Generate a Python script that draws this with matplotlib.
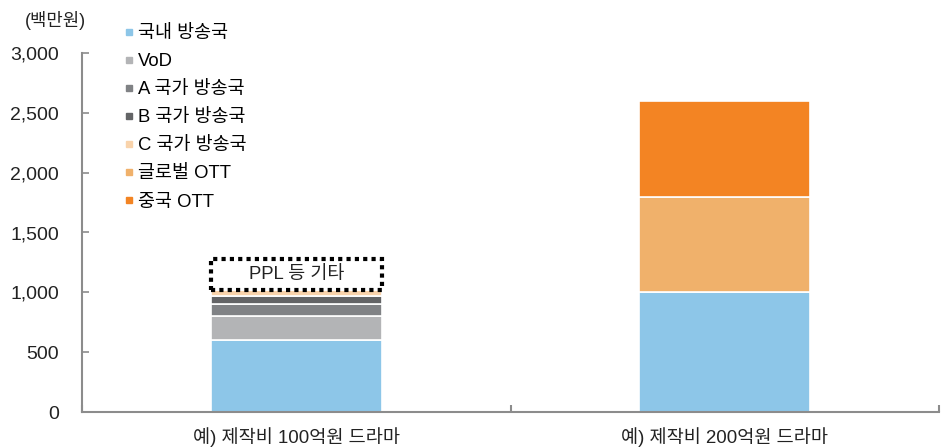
import matplotlib
matplotlib.use("Agg")
import matplotlib.pyplot as plt
from matplotlib.lines import Line2D
import numpy as np

plt.rcParams['font.family'] = ['Liberation Sans', 'Noto Sans CJK KR']

# Stacked revenue components per drama (백만원)
categories = ['예) 제작비 100억원 드라마', '예) 제작비 200억원 드라마']
series_names = ['국내 방송국', 'VoD', 'A 국가 방송국', 'B 국가 방송국',
                'C 국가 방송국', '글로벌 OTT', '중국 OTT']
series_values = [
    [600, 1000],
    [200, 0],
    [100, 0],
    [70, 0],
    [50, 0],
    [0, 800],
    [0, 800],
]
series_colors = ['#8dc6e8', '#b3b4b6', '#808285', '#636466',
                 '#f9d3ab', '#f0b16b', '#f38423']
etc_label = 'PPL 등 기타'
etc_value = [260, 0]
y_ticks = [0, 500, 1000, 1500, 2000, 2500, 3000]

text_col = '#222222'
fig = plt.figure(figsize=(9.41, 4.48), dpi=100)
ax = fig.add_axes([82 / 941, 36 / 448, 857 / 941, 359 / 448])

x = np.arange(len(categories))
bottom = np.zeros(len(categories))
for name, vals, col in zip(series_names, series_values, series_colors):
    vals = np.array(vals, dtype=float)
    ax.bar(x, vals, width=0.4, bottom=bottom, color=col,
           edgecolor='white', linewidth=1.2, label=name)
    bottom += vals

# dotted box for the "other" segment on the first bar
ax.bar(x[0], etc_value[0], width=0.4, bottom=bottom[0], fill=False,
       edgecolor='black', linestyle=(0, (1, 1)), linewidth=3)
ax.text(x[0], bottom[0] + etc_value[0] / 2, etc_label, ha='center',
        va='center', fontsize=13.3, color=text_col)

ax.set_xlim(-0.5, 1.5)
ax.set_ylim(0, 3000)
ax.set_yticks(y_ticks)
ax.set_yticklabels([f'{v:,}' for v in y_ticks])
ax.set_xticks(x)
ax.set_xticklabels(categories)
ax.set_xticks([-0.5, 0.5, 1.5], minor=True)

spine_col = '#8c8c8c'
for s in ['top', 'right']:
    ax.spines[s].set_visible(False)
for s in ['left', 'bottom']:
    ax.spines[s].set_color(spine_col)
    ax.spines[s].set_linewidth(1.5)

ax.tick_params(axis='y', direction='in', length=5, width=1.2,
               color=spine_col, labelsize=14, pad=16.5, labelcolor=text_col)
ax.tick_params(axis='x', which='major', length=0, labelsize=13.4,
               pad=11, labelcolor=text_col)
ax.tick_params(axis='x', which='minor', direction='in', length=5,
               width=1.5, color=spine_col)

fig.text(25 / 941, 1 - 21 / 448, '(백만원)', fontsize=12.8,
         va='center', ha='left', color=text_col)

handles = [Line2D([], [], marker='s', linestyle='none', markersize=5,
                  markerfacecolor=c, markeredgecolor=c)
           for c in series_colors]
ax.legend(handles, series_names, loc='upper left',
          bbox_to_anchor=(124 / 941, 1 - 25 / 448),
          bbox_transform=fig.transFigure, frameon=False, fontsize=13.3,
          handlelength=0.5, handletextpad=0.24, labelspacing=0.6,
          borderpad=0, borderaxespad=0)

fig.savefig('out.png', dpi=100)
